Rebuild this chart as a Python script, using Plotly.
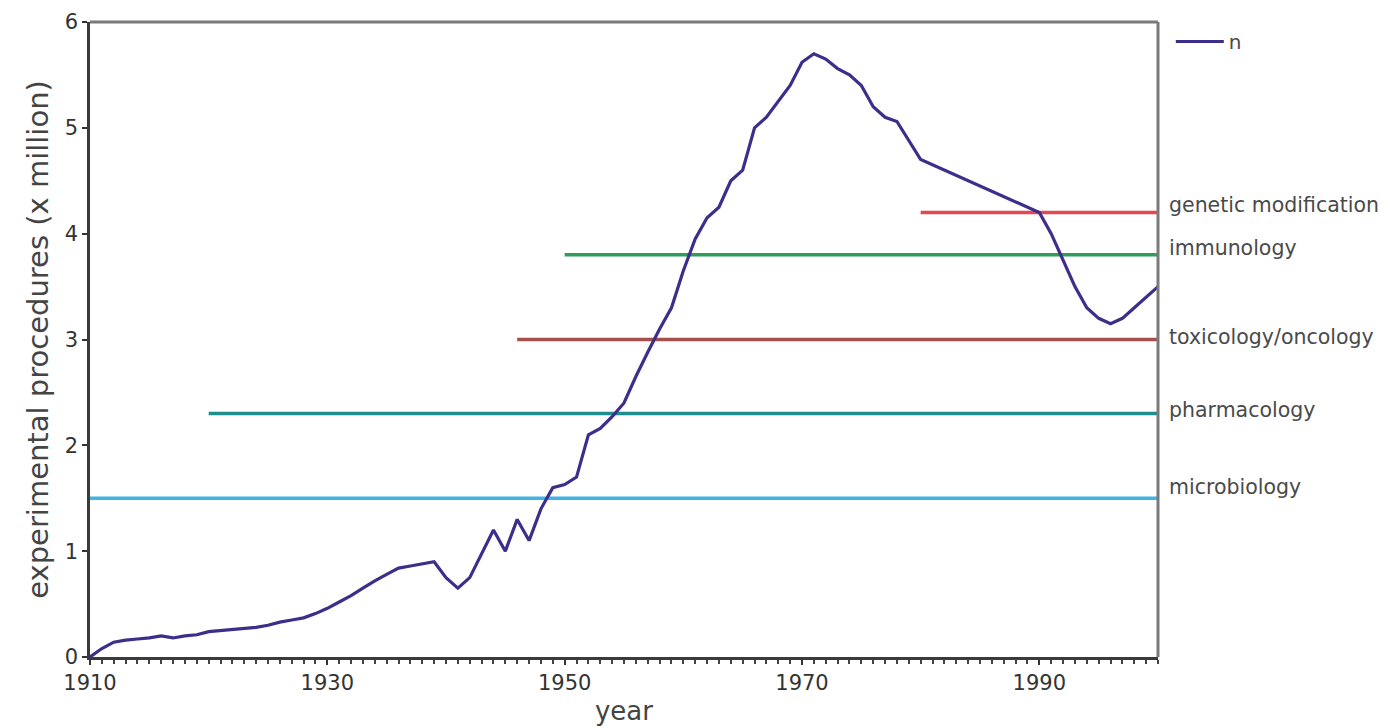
import plotly.graph_objects as go

# Main series: experimental procedures (x million) by year
years = [1910, 1911, 1912, 1913, 1914, 1915, 1916, 1917, 1918, 1919,
         1920, 1921, 1922, 1923, 1924, 1925, 1926, 1927, 1928, 1929,
         1930, 1931, 1932, 1933, 1934, 1935, 1936, 1937, 1938, 1939,
         1940, 1941, 1942, 1943, 1944, 1945, 1946, 1947, 1948, 1949,
         1950, 1951, 1952, 1953, 1954, 1955, 1956, 1957, 1958, 1959,
         1960, 1961, 1962, 1963, 1964, 1965, 1966, 1967, 1968, 1969,
         1970, 1971, 1972, 1973, 1974, 1975, 1976, 1977, 1978, 1979,
         1980, 1990, 1991, 1992, 1993, 1994, 1995, 1996, 1997, 1998,
         1999, 2000]
n_values = [0.00, 0.08, 0.14, 0.16, 0.17, 0.18, 0.20, 0.18, 0.20, 0.21,
            0.24, 0.25, 0.26, 0.27, 0.28, 0.30, 0.33, 0.35, 0.37, 0.41,
            0.46, 0.52, 0.58, 0.65, 0.72, 0.78, 0.84, 0.86, 0.88, 0.90,
            0.75, 0.65, 0.75, 0.97, 1.20, 1.00, 1.30, 1.10, 1.40, 1.60,
            1.63, 1.70, 2.10, 2.16, 2.27, 2.40, 2.65, 2.88, 3.10, 3.30,
            3.65, 3.95, 4.15, 4.25, 4.50, 4.60, 5.00, 5.10, 5.25, 5.40,
            5.62, 5.70, 5.65, 5.56, 5.50, 5.40, 5.20, 5.10, 5.06, 4.88,
            4.70, 4.20, 4.00, 3.75, 3.50, 3.30, 3.20, 3.15, 3.20, 3.30,
            3.40, 3.50]

# Research fields: horizontal reference lines
fields = ["genetic modification", "immunology", "toxicology/oncology",
          "pharmacology", "microbiology"]
field_levels = [4.2, 3.8, 3.0, 2.3, 1.5]
field_start = [1980, 1950, 1946, 1920, 1910]
field_end = [2000, 2000, 2000, 2000, 2000]
field_colors = ["#e8474f", "#2f9e5c", "#a5504c", "#1f8e8e", "#41b4e4"]
label_shift = [8, 7, 3, 4, 11]

x_ticks = [1910, 1930, 1950, 1970, 1990]
y_ticks = [0, 1, 2, 3, 4, 5, 6]

FONT = "DejaVu Sans, Liberation Sans, Arial, sans-serif"

fig = go.Figure()

for name, lvl, x0, x1, col in zip(fields, field_levels, field_start, field_end, field_colors):
    fig.add_trace(go.Scatter(x=[x0, x1], y=[lvl, lvl], mode="lines",
                             line=dict(color=col, width=3.5),
                             showlegend=False, hoverinfo="skip"))

fig.add_trace(go.Scatter(x=years, y=n_values, mode="lines", name="n",
                         line=dict(color="#3f2d8c", width=3.2)))

for name, lvl, sh in zip(fields, field_levels, label_shift):
    fig.add_annotation(x=1.008, xref="paper", y=lvl, yref="y", yshift=sh,
                       text=name, showarrow=False, xanchor="left", yanchor="middle",
                       font=dict(family=FONT, size=20.5, color="#4a4a4a"))

tick_font = dict(family=FONT, size=21, color="#333333")

fig.update_layout(
    width=1380, height=719,
    margin=dict(l=82, r=230, t=14, b=70),
    paper_bgcolor="white", plot_bgcolor="white",
    showlegend=True,
    legend=dict(x=1.012, y=1.0, xanchor="left", yanchor="top", itemwidth=48,
                font=dict(family=FONT, size=20, color="#4a4a4a"),
                bgcolor="rgba(0,0,0,0)"),
    xaxis=dict(range=[1910, 2000], tickvals=x_ticks, ticks="outside", ticklen=5,
               tickwidth=1.5, tickcolor="#333333", showgrid=False, zeroline=False,
               showline=True, linecolor="#3a3a3a", linewidth=2.5, automargin=False,
               tickfont=tick_font,
               minor=dict(dtick=1, ticks="outside", ticklen=4, tickcolor="#444444", showgrid=False),
               title=dict(text="year", standoff=8,
                          font=dict(family=FONT, size=26, color="#444444"))),
    yaxis=dict(range=[0, 6], tickvals=y_ticks, ticks="outside", ticklen=5,
               tickwidth=1.5, tickcolor="#333333", showgrid=False, zeroline=False,
               showline=True, linecolor="#3a3a3a", linewidth=2.5, automargin=False,
               tickfont=tick_font,
               title=dict(text="experimental procedures (x million)", standoff=8,
                          font=dict(family=FONT, size=29, color="#444444"))),
)

# grey frame on top and right
fig.add_shape(type="line", xref="paper", yref="paper", x0=0, x1=1, y0=1, y1=1,
              line=dict(color="#7a7a7a", width=3))
fig.add_shape(type="line", xref="paper", yref="paper", x0=1, x1=1, y0=0, y1=1,
              line=dict(color="#7a7a7a", width=3))

fig.write_html("out.html")
